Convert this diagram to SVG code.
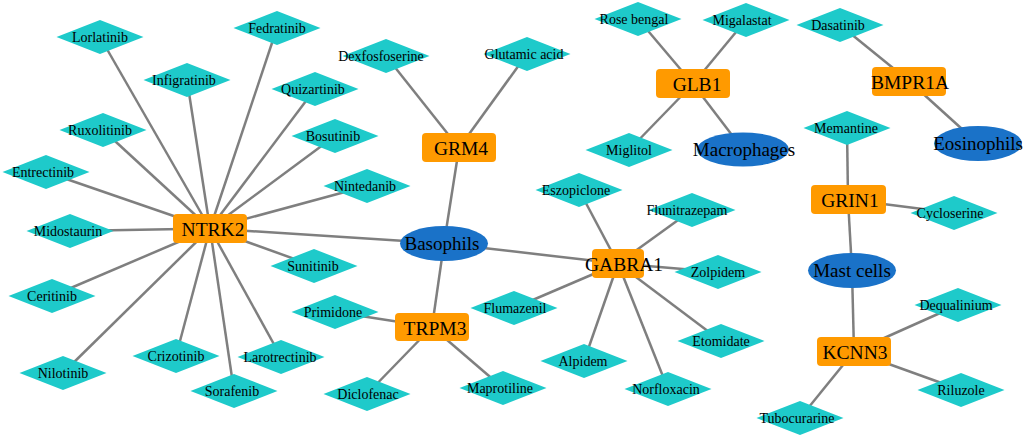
<svg xmlns="http://www.w3.org/2000/svg" xmlns:xlink="http://www.w3.org/1999/xlink" width="1024" height="438" viewBox="0 0 1024 438">
<style>
.e{stroke:#7f7f7f;stroke-width:2.5;fill:none}
.d{fill:#1ECACA}
.g{fill:#FF9A00}
.c{fill:#1A72C8}
text{font-family:"Liberation Serif","Times New Roman",serif;fill:#000;text-anchor:middle}
.dt{font-size:14px}
.gt{font-size:19.5px}
.ct{font-size:19px}
</style>
<defs>
<polygon id="dia" class="d" points="0,-17 43.5,0 0,17 -43.5,0"/>
</defs>
<rect width="1024" height="438" fill="#fff"/>
<g id="connectors">
<line class="e" x1="210" y1="228.5" x2="100" y2="37"/>
<line class="e" x1="210" y1="228.5" x2="277" y2="28"/>
<line class="e" x1="210" y1="228.5" x2="187" y2="80"/>
<line class="e" x1="210" y1="228.5" x2="315" y2="89"/>
<line class="e" x1="210" y1="228.5" x2="103" y2="130"/>
<line class="e" x1="210" y1="228.5" x2="335" y2="136"/>
<line class="e" x1="210" y1="228.5" x2="46" y2="172"/>
<line class="e" x1="210" y1="228.5" x2="367" y2="186"/>
<line class="e" x1="210" y1="228.5" x2="70" y2="231"/>
<line class="e" x1="210" y1="228.5" x2="314" y2="266"/>
<line class="e" x1="210" y1="228.5" x2="52" y2="296"/>
<line class="e" x1="210" y1="228.5" x2="176" y2="356"/>
<line class="e" x1="210" y1="228.5" x2="281" y2="357"/>
<line class="e" x1="210" y1="228.5" x2="63" y2="373"/>
<line class="e" x1="210" y1="228.5" x2="234" y2="391"/>
<line class="e" x1="210" y1="228.5" x2="444" y2="243.5"/>
<line class="e" x1="444" y1="243.5" x2="459" y2="148"/>
<line class="e" x1="444" y1="243.5" x2="432" y2="327"/>
<line class="e" x1="444" y1="243.5" x2="618" y2="263.5"/>
<line class="e" x1="459" y1="148" x2="386" y2="56"/>
<line class="e" x1="459" y1="148" x2="527" y2="54"/>
<line class="e" x1="432" y1="327" x2="335" y2="312"/>
<line class="e" x1="432" y1="327" x2="367" y2="394"/>
<line class="e" x1="432" y1="327" x2="503" y2="388"/>
<line class="e" x1="618" y1="263.5" x2="579" y2="190"/>
<line class="e" x1="618" y1="263.5" x2="692" y2="210"/>
<line class="e" x1="618" y1="263.5" x2="718" y2="272"/>
<line class="e" x1="618" y1="263.5" x2="514" y2="308"/>
<line class="e" x1="618" y1="263.5" x2="721" y2="341"/>
<line class="e" x1="618" y1="263.5" x2="584" y2="361"/>
<line class="e" x1="618" y1="263.5" x2="668" y2="389"/>
<line class="e" x1="693" y1="84" x2="638" y2="19"/>
<line class="e" x1="693" y1="84" x2="746" y2="20"/>
<line class="e" x1="693" y1="84" x2="629" y2="150"/>
<line class="e" x1="693" y1="84" x2="743" y2="149.5"/>
<line class="e" x1="909" y1="81" x2="840" y2="25"/>
<line class="e" x1="909" y1="81" x2="978" y2="143.5"/>
<line class="e" x1="848" y1="199.5" x2="847" y2="128"/>
<line class="e" x1="848" y1="199.5" x2="954" y2="213"/>
<line class="e" x1="848" y1="199.5" x2="852" y2="270.5"/>
<line class="e" x1="854" y1="351.5" x2="852" y2="270.5"/>
<line class="e" x1="854" y1="351.5" x2="958" y2="305"/>
<line class="e" x1="854" y1="351.5" x2="961" y2="390"/>
<line class="e" x1="854" y1="351.5" x2="800" y2="418"/>
</g>
<g id="n-lorlatinib"><use xlink:href="#dia" x="100" y="37"/><text class="dt" x="100" y="42">Lorlatinib</text></g>
<g id="n-fedratinib"><use xlink:href="#dia" x="277" y="28"/><text class="dt" x="277" y="33">Fedratinib</text></g>
<g id="n-infigratinib"><use xlink:href="#dia" x="187" y="80"/><text class="dt" x="184" y="85">Infigratinib</text></g>
<g id="n-quizartinib"><use xlink:href="#dia" x="315" y="89"/><text class="dt" x="313" y="94">Quizartinib</text></g>
<g id="n-ruxolitinib"><use xlink:href="#dia" x="103" y="130"/><text class="dt" x="100" y="135">Ruxolitinib</text></g>
<g id="n-bosutinib"><use xlink:href="#dia" x="335" y="136"/><text class="dt" x="333" y="141">Bosutinib</text></g>
<g id="n-entrectinib"><use xlink:href="#dia" x="46" y="172"/><text class="dt" x="43" y="177">Entrectinib</text></g>
<g id="n-nintedanib"><use xlink:href="#dia" x="367" y="186"/><text class="dt" x="365" y="191">Nintedanib</text></g>
<g id="n-midostaurin"><use xlink:href="#dia" x="70" y="231"/><text class="dt" x="68" y="236">Midostaurin</text></g>
<g id="n-sunitinib"><use xlink:href="#dia" x="314" y="266"/><text class="dt" x="313" y="271">Sunitinib</text></g>
<g id="n-ceritinib"><use xlink:href="#dia" x="52" y="296"/><text class="dt" x="52" y="301">Ceritinib</text></g>
<g id="n-crizotinib"><use xlink:href="#dia" x="176" y="356"/><text class="dt" x="176" y="361">Crizotinib</text></g>
<g id="n-larotrectinib"><use xlink:href="#dia" x="281" y="357"/><text class="dt" x="280" y="362">Larotrectinib</text></g>
<g id="n-nilotinib"><use xlink:href="#dia" x="63" y="373"/><text class="dt" x="63" y="378">Nilotinib</text></g>
<g id="n-sorafenib"><use xlink:href="#dia" x="234" y="391"/><text class="dt" x="232" y="396">Sorafenib</text></g>
<g id="n-ntrk2"><rect class="g" x="173" y="214" width="74" height="29" rx="4"/><text class="gt" x="213" y="235.5">NTRK2</text></g>
<g id="n-dexfosfoserine"><use xlink:href="#dia" x="386" y="56"/><text class="dt" x="381" y="61">Dexfosfoserine</text></g>
<g id="n-glutamic"><use xlink:href="#dia" x="527" y="54"/><text class="dt" x="524" y="59">Glutamic acid</text></g>
<g id="n-grm4"><rect class="g" x="422" y="133" width="74" height="29" rx="4"/><text class="gt" x="461" y="154.5">GRM4</text></g>
<g id="n-basophils"><ellipse class="c" cx="444" cy="243.5" rx="44" ry="17.5"/><text class="ct" x="442" y="250">Basophils</text></g>
<g id="n-eszopiclone"><use xlink:href="#dia" x="579" y="190"/><text class="dt" x="576" y="195">Eszopiclone</text></g>
<g id="n-flunitrazepam"><use xlink:href="#dia" x="692" y="210"/><text class="dt" x="687" y="215">Flunitrazepam</text></g>
<g id="n-zolpidem"><use xlink:href="#dia" x="718" y="272"/><text class="dt" x="718" y="277">Zolpidem</text></g>
<g id="n-flumazenil"><use xlink:href="#dia" x="514" y="308"/><text class="dt" x="515" y="313">Flumazenil</text></g>
<g id="n-etomidate"><use xlink:href="#dia" x="721" y="341"/><text class="dt" x="721" y="346">Etomidate</text></g>
<g id="n-alpidem"><use xlink:href="#dia" x="584" y="361"/><text class="dt" x="583" y="366">Alpidem</text></g>
<g id="n-norfloxacin"><use xlink:href="#dia" x="668" y="389"/><text class="dt" x="666" y="394">Norfloxacin</text></g>
<g id="n-gabra1"><rect class="g" x="592" y="249" width="52" height="29" rx="4"/><text class="gt" x="624" y="270.5">GABRA1</text></g>
<g id="n-primidone"><use xlink:href="#dia" x="335" y="312"/><text class="dt" x="333" y="317">Primidone</text></g>
<g id="n-diclofenac"><use xlink:href="#dia" x="367" y="394"/><text class="dt" x="368" y="399">Diclofenac</text></g>
<g id="n-maprotiline"><use xlink:href="#dia" x="503" y="388"/><text class="dt" x="500" y="393">Maprotiline</text></g>
<g id="n-trpm3"><rect class="g" x="395" y="313" width="74" height="28" rx="4"/><text class="gt" x="435" y="334.5">TRPM3</text></g>
<g id="n-rosebengal"><use xlink:href="#dia" x="638" y="19"/><text class="dt" x="634" y="24">Rose bengal</text></g>
<g id="n-migalastat"><use xlink:href="#dia" x="746" y="20"/><text class="dt" x="742" y="25">Migalastat</text></g>
<g id="n-miglitol"><use xlink:href="#dia" x="629" y="150"/><text class="dt" x="629" y="155">Miglitol</text></g>
<g id="n-glb1"><rect class="g" x="656" y="69" width="74" height="29" rx="4"/><text class="gt" x="697" y="90.5">GLB1</text></g>
<g id="n-macrophages"><ellipse class="c" cx="743" cy="149.5" rx="46" ry="17"/><text class="ct" x="744" y="156">Macrophages</text></g>
<g id="n-dasatinib"><use xlink:href="#dia" x="840" y="25"/><text class="dt" x="838" y="30">Dasatinib</text></g>
<g id="n-bmpr1a"><rect class="g" x="872" y="67" width="74" height="29" rx="4"/><text class="gt" x="910" y="88.5">BMPR1A</text></g>
<g id="n-eosinophils"><ellipse class="c" cx="978" cy="143.5" rx="44" ry="17.5"/><text class="ct" x="978" y="150">Eosinophils</text></g>
<g id="n-memantine"><use xlink:href="#dia" x="847" y="128"/><text class="dt" x="846" y="133">Memantine</text></g>
<g id="n-grin1"><rect class="g" x="811" y="185" width="75" height="29" rx="4"/><text class="gt" x="850" y="206.5">GRIN1</text></g>
<g id="n-cycloserine"><use xlink:href="#dia" x="954" y="213"/><text class="dt" x="950" y="218">Cycloserine</text></g>
<g id="n-mastcells"><ellipse class="c" cx="852" cy="270.5" rx="44" ry="17.5"/><text class="ct" x="852" y="277">Mast cells</text></g>
<g id="n-dequalinium"><use xlink:href="#dia" x="958" y="305"/><text class="dt" x="956" y="310">Dequalinium</text></g>
<g id="n-kcnn3"><rect class="g" x="817" y="337" width="74" height="29" rx="4"/><text class="gt" x="855" y="358.5">KCNN3</text></g>
<g id="n-riluzole"><use xlink:href="#dia" x="961" y="390"/><text class="dt" x="961" y="395">Riluzole</text></g>
<g id="n-tubocurarine"><use xlink:href="#dia" x="800" y="418"/><text class="dt" x="797" y="423">Tubocurarine</text></g>
</svg>
